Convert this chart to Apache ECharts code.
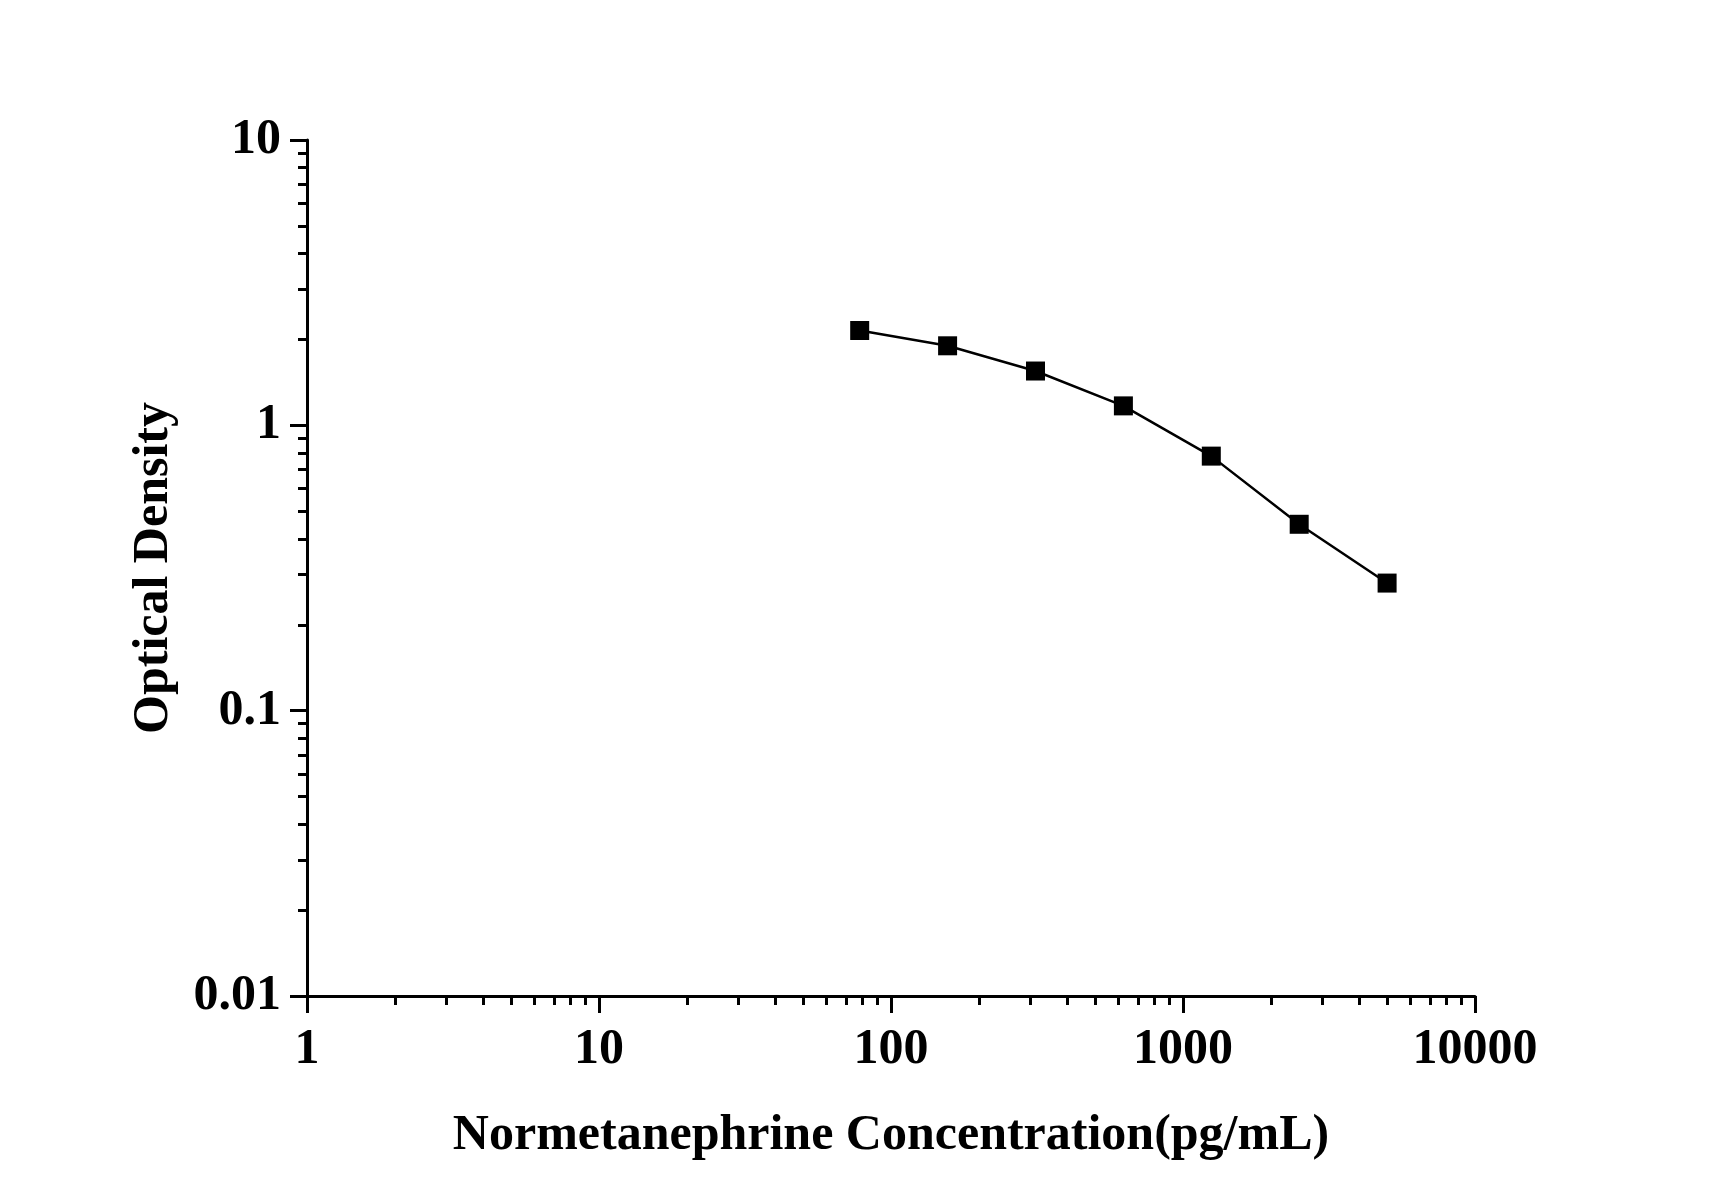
<!DOCTYPE html>
<html>
<head>
<meta charset="utf-8">
<script src="https://cdn.jsdelivr.net/npm/echarts@6/dist/echarts.min.js"></script>
<style>
html,body{margin:0;padding:0;background:#fff;}
#chart{width:1712px;height:1196px;}
</style>
</head>
<body>
<div id="chart"></div>
<script>
// Data
const concentrations = [78.125, 156.25, 312.5, 625, 1250, 2500, 5000];
const opticalDensity = [2.15, 1.90, 1.55, 1.17, 0.78, 0.45, 0.28];

const xTickLabels = ['1', '10', '100', '1000', '10000'];
const yTickLabels = ['0.01', '0.1', '1', '10'];
const xMinorTicks = [2,3,4,5,6,7,8,9,20,30,40,50,60,70,80,90,200,300,400,500,600,700,800,900,2000,3000,4000,5000,6000,7000,8000,9000];
const yMinorTicks = [0.02,0.03,0.04,0.05,0.06,0.07,0.08,0.09,0.2,0.3,0.4,0.5,0.6,0.7,0.8,0.9,2,3,4,5,6,7,8,9];

const xTitle = 'Normetanephrine Concentration(pg/mL)';
const yTitle = 'Optical Density';

const FONT = '"Liberation Serif", "Times New Roman", serif';

function fmt(list) {
  return function (v) {
    const e = Math.round(Math.log10(v));
    const s = Math.pow(10, e);
    const found = list.find(t => Math.abs(parseFloat(t) - s) / s < 1e-6);
    return found || '';
  };
}

const chart = echarts.init(document.getElementById('chart'), null, {renderer: 'canvas'});

const axisCommon = {
  type: 'log',
  logBase: 10,
  splitLine: {show: false},
  minorTick: {show: false},
  minorSplitLine: {show: false}
};

const option = {
  backgroundColor: '#ffffff',
  animation: false,
  grid: {left: 307, right: 237, top: 140, bottom: 200, containLabel: false},
  xAxis: [
    Object.assign({}, axisCommon, {
      min: 1, max: 10000,
      position: 'bottom',
      name: xTitle,
      nameLocation: 'middle',
      nameGap: 115,
      nameTextStyle: {fontFamily: FONT, fontWeight: 'bold', fontSize: 50, color: '#000'},
      axisLine: {show: true, lineStyle: {color: '#000', width: 3}},
      axisTick: {show: true, inside: false, length: 17, lineStyle: {color: '#000', width: 3}},
      axisLabel: {show: true, margin: 29, fontFamily: FONT, fontWeight: 'bold', fontSize: 50, color: '#000', formatter: fmt(xTickLabels)}
    }),
    Object.assign({}, axisCommon, {
      min: 1, max: 10000,
      position: 'bottom',
      axisLine: {show: false},
      axisLabel: {show: false},
      axisTick: {show: true, inside: false, length: 9, customValues: xMinorTicks, lineStyle: {color: '#000', width: 3}}
    })
  ],
  yAxis: [
    Object.assign({}, axisCommon, {
      min: 0.01, max: 10,
      position: 'left',
      name: yTitle,
      nameLocation: 'middle',
      nameRotate: 90,
      nameGap: 128,
      nameTextStyle: {fontFamily: FONT, fontWeight: 'bold', fontSize: 50, color: '#000'},
      axisLine: {show: true, lineStyle: {color: '#000', width: 3}},
      axisTick: {show: true, inside: false, length: 17, lineStyle: {color: '#000', width: 3}},
      axisLabel: {show: true, margin: 26, fontFamily: FONT, fontWeight: 'bold', fontSize: 50, color: '#000', formatter: fmt(yTickLabels)}
    }),
    Object.assign({}, axisCommon, {
      min: 0.01, max: 10,
      position: 'left',
      axisLine: {show: false},
      axisLabel: {show: false},
      axisTick: {show: true, inside: false, length: 9, customValues: yMinorTicks, lineStyle: {color: '#000', width: 3}}
    })
  ],
  series: [{
    type: 'line',
    xAxisIndex: 0,
    yAxisIndex: 0,
    data: concentrations.map((c, i) => [c, opticalDensity[i]]),
    symbol: 'rect',
    symbolSize: 19,
    itemStyle: {color: '#000'},
    lineStyle: {color: '#000', width: 2.5},
    smooth: false
  }]
};

chart.setOption(option);
</script>
</body>
</html>
